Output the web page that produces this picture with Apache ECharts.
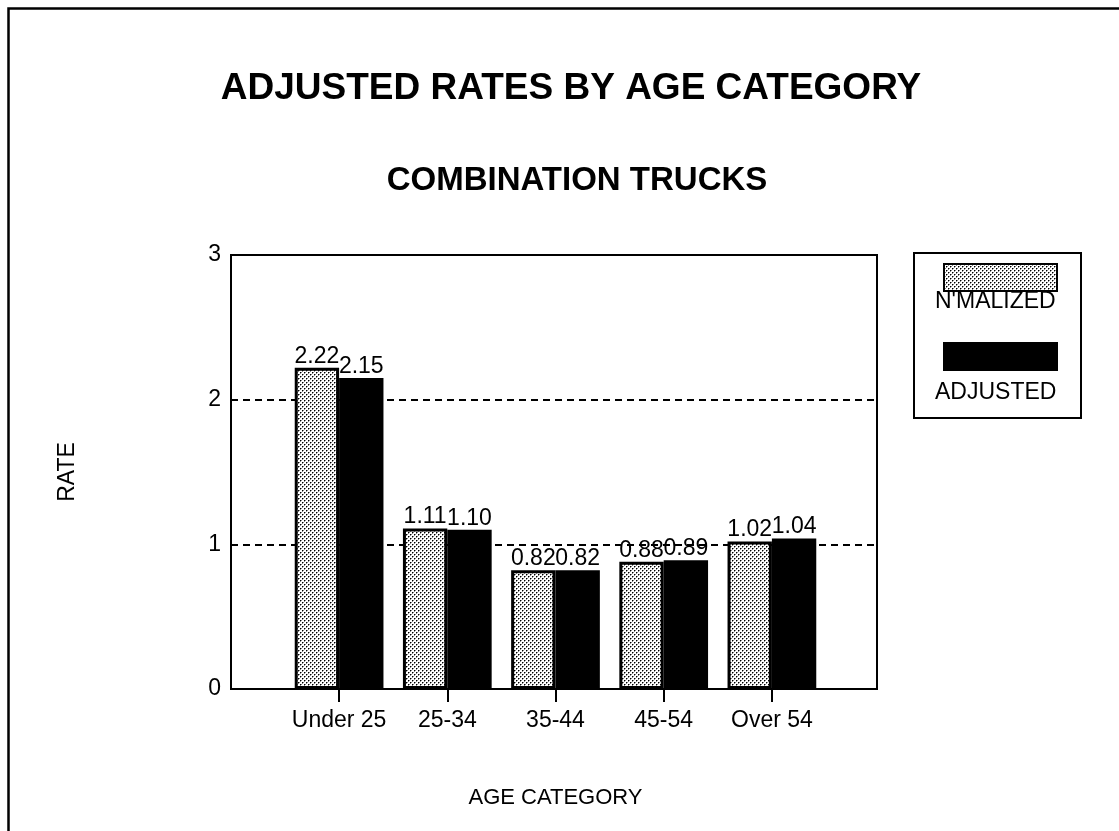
<!DOCTYPE html>
<html>
<head>
<meta charset="utf-8">
<script src="https://cdn.jsdelivr.net/npm/echarts@6/dist/echarts.min.js"></script>
<style>
  html, body { margin: 0; padding: 0; background: #fff; }
  #chart { width: 1119px; height: 831px; }
</style>
</head>
<body>
<div id="chart"></div>
<script>
const categories = ['Under 25', '25-34', '35-44', '45-54', 'Over 54']
const normalized = [2.22, 1.11, 0.82, 0.88, 1.02]
const adjusted = [2.15, 1.10, 0.82, 0.89, 1.04]
const yTicks = [0, 1, 2, 3]

const FONT = "'Liberation Sans', Arial, Helvetica, sans-serif"

// stippled fill like the old printer pattern
function makeStipple () {
  const c = document.createElement('canvas')
  c.width = 4
  c.height = 4
  const ctx = c.getContext('2d')
  ctx.fillStyle = '#ffffff'
  ctx.fillRect(0, 0, 4, 4)
  ctx.fillStyle = '#000000'
  ctx.fillRect(0, 0, 1, 1)
  ctx.fillRect(2, 2, 1, 1)
  ctx.fillStyle = '#888888'
  ctx.fillRect(1, 0, 1, 1)
  ctx.fillRect(0, 1, 1, 1)
  ctx.fillRect(3, 2, 1, 1)
  ctx.fillRect(2, 3, 1, 1)
  return c
}
const stipple = { image: makeStipple(), repeat: 'repeat' }

const chart = echarts.init(document.getElementById('chart'), null, { renderer: 'canvas' })

const valueLabel = {
  show: true,
  position: 'top',
  distance: 0,
  color: '#000',
  fontFamily: FONT,
  fontSize: 23,
  formatter: (p) => p.value.toFixed(2)
}

const option = {
  backgroundColor: '#fff',
  animation: false,
  title: [
    {
      text: 'ADJUSTED RATES BY AGE CATEGORY',
      left: 566,
      top: 65,
      textAlign: 'center',
      textStyle: { fontFamily: FONT, fontSize: 37, fontWeight: 'bold', color: '#000' }
    },
    {
      text: 'COMBINATION TRUCKS',
      left: 572,
      top: 159,
      textAlign: 'center',
      textStyle: { fontFamily: FONT, fontSize: 33, fontWeight: 'bold', color: '#000' }
    }
  ],
  legend: {
    orient: 'vertical',
    left: 914,
    top: 253,
    padding: [10, 23, 47, 29],
    borderColor: '#000',
    borderWidth: 2,
    itemWidth: 113,
    itemHeight: 27,
    itemGap: 50,
    selectedMode: false,
    formatter: () => '',
    data: [
      { name: "N'MALIZED", icon: 'rect' },
      { name: 'ADJUSTED', icon: 'rect' }
    ]
  },
  grid: [
    // frame with the dashed reference lines
    { left: 231, right: 242, top: 255, bottom: 142, show: true, borderColor: '#000', borderWidth: 2, backgroundColor: 'transparent' },
    // bars
    { left: 285, right: 293, top: 255, bottom: 142 }
  ],
  xAxis: [
    { type: 'value', gridIndex: 0, show: false, min: 0, max: 1 },
    {
      type: 'category',
      gridIndex: 1,
      data: categories,
      axisLine: { show: false },
      axisTick: { show: true, interval: 0, alignWithLabel: true, length: 13, lineStyle: { color: '#000', width: 2 } },
      axisLabel: { interval: 0, color: '#000', fontFamily: FONT, fontSize: 23, margin: 20 },
      name: 'AGE CATEGORY',
      nameLocation: 'middle',
      nameGap: 98,
      nameTextStyle: { color: '#000', fontFamily: FONT, fontSize: 22 }
    }
  ],
  yAxis: [
    {
      type: 'value',
      gridIndex: 0,
      min: yTicks[0],
      max: yTicks[yTicks.length - 1],
      interval: 1,
      axisLine: { show: true, lineStyle: { color: '#000', width: 2 } },
      axisTick: { show: false },
      axisLabel: { color: '#000', fontFamily: FONT, fontSize: 23, margin: 10 },
      splitLine: { show: true, lineStyle: { color: '#000', width: 2, type: [7, 5] } },
      name: 'RATE',
      nameLocation: 'middle',
      nameGap: 152,
      nameTextStyle: { color: '#000', fontFamily: FONT, fontSize: 23 }
    },
    { type: 'value', gridIndex: 1, min: 0, max: 3, show: false }
  ],
  series: [
    {
      name: "N'MALIZED",
      type: 'bar',
      xAxisIndex: 1,
      yAxisIndex: 1,
      data: normalized,
      barGap: '0%',
      barCategoryGap: '18%',
      itemStyle: { color: stipple, borderColor: '#000', borderWidth: 3 },
      label: valueLabel
    },
    {
      name: 'ADJUSTED',
      type: 'bar',
      xAxisIndex: 1,
      yAxisIndex: 1,
      data: adjusted,
      itemStyle: { color: '#000', borderColor: '#000', borderWidth: 3 },
      label: valueLabel
    }
  ],
  graphic: [
    // outer page frame
    { type: 'rect', left: 6, top: 6, shape: { width: 1200, height: 900 }, style: { fill: 'none', stroke: '#000', lineWidth: 2.5 }, silent: true },
    { type: 'text', left: 935, top: 290, style: { text: "N'MALIZED", fill: '#000', font: '23px ' + FONT } },
    { type: 'text', left: 935, top: 381, style: { text: 'ADJUSTED', fill: '#000', font: '23px ' + FONT } }
  ]
}

chart.setOption(option)
</script>
</body>
</html>
